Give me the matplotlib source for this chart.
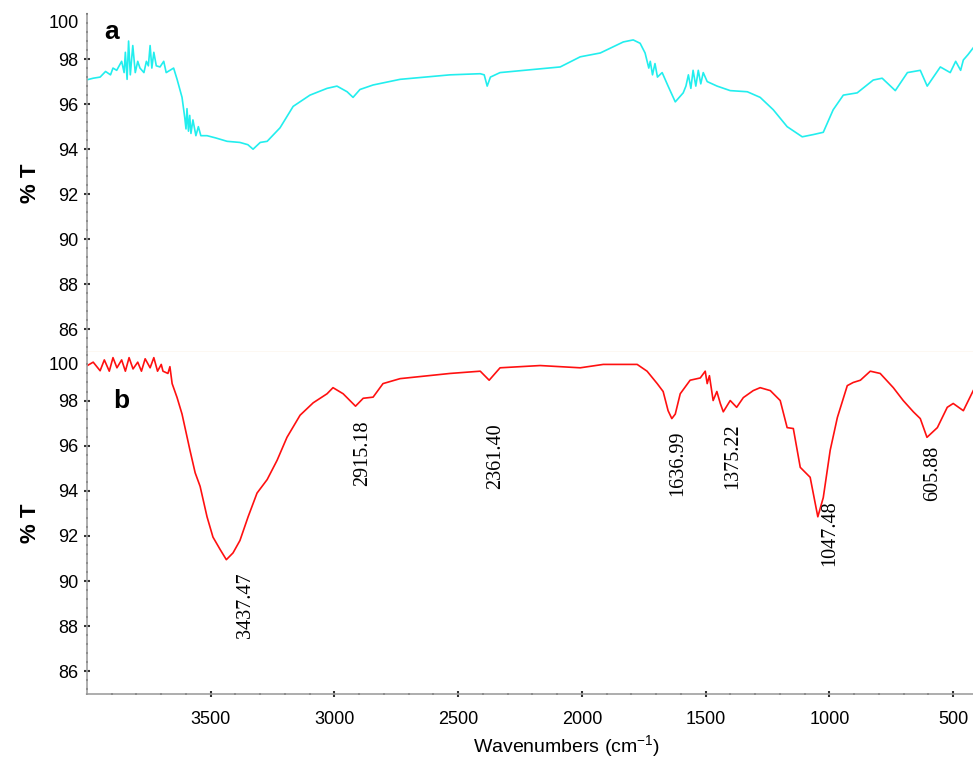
import matplotlib
matplotlib.use("Agg")
import matplotlib.pyplot as plt
from matplotlib.ticker import MultipleLocator, FixedLocator

# ---------------- data ----------------
wn_a = [4000, 3975, 3947, 3925, 3905, 3895, 3880, 3860, 3850, 3845,
        3838, 3832, 3825, 3815, 3805, 3795, 3786, 3770, 3760, 3752,
        3745, 3738, 3730, 3720, 3705, 3690, 3680, 3665, 3650, 3636,
        3616, 3605, 3600, 3596, 3590, 3585, 3580, 3572, 3560, 3550,
        3540, 3515, 3480, 3434, 3382, 3350, 3329, 3300, 3272, 3220,
        3167, 3099, 3030, 2990, 2949, 2925, 2897, 2844, 2735, 2533,
        2411, 2395, 2383, 2370, 2331, 2088, 2007, 1926, 1833, 1793,
        1765, 1745, 1730, 1724, 1715, 1705, 1695, 1676, 1652, 1623,
        1591, 1580, 1570, 1560, 1551, 1540, 1530, 1520, 1510, 1494,
        1454, 1401, 1332, 1280, 1227, 1171, 1110, 1065, 1025, 985,
        944, 888, 823, 787, 734, 685, 633, 605, 552, 512,
        490, 470, 459, 440, 419]
t_a = [97.08, 97.15, 97.2, 97.45, 97.3, 97.6, 97.5, 97.9, 97.4, 98.3,
       97.1, 98.8, 97.3, 98.6, 97.4, 97.9, 97.6, 97.4, 97.9, 97.7,
       98.6, 97.6, 98.3, 97.7, 97.65, 97.9, 97.4, 97.5, 97.6, 97.1,
       96.3, 95.4, 94.9, 95.8, 94.8, 95.5, 94.7, 95.3, 94.6, 95.0,
       94.6, 94.6, 94.5, 94.35, 94.3, 94.2, 94.0, 94.3, 94.35, 94.95,
       95.9, 96.4, 96.7, 96.8, 96.55, 96.3, 96.65, 96.85, 97.1, 97.3,
       97.35, 97.3, 96.8, 97.2, 97.4, 97.65, 98.1, 98.27, 98.76, 98.85,
       98.7, 98.27, 97.6, 97.9, 97.3, 97.8, 97.2, 97.4, 96.8, 96.1,
       96.5, 96.8, 97.3, 96.7, 97.5, 96.8, 97.5, 96.9, 97.4, 97.0,
       96.8, 96.6, 96.55, 96.3, 95.75, 95.0, 94.55, 94.65, 94.75, 95.75,
       96.4, 96.5, 97.07, 97.15, 96.6, 97.4, 97.5, 96.8, 97.65, 97.4,
       97.9, 97.5, 97.96, 98.2, 98.5]

wn_b = [4000, 3975, 3947, 3930, 3910, 3895, 3879, 3860, 3845, 3830,
        3814, 3795, 3780, 3765, 3745, 3730, 3715, 3700, 3693, 3673,
        3665, 3656, 3636, 3616, 3604, 3584, 3563, 3543, 3515, 3491,
        3462, 3437, 3410, 3382, 3349, 3313, 3272, 3232, 3192, 3139,
        3086, 3030, 3006, 2965, 2915, 2884, 2844, 2804, 2735, 2533,
        2411, 2375, 2331, 2169, 2007, 1914, 1777, 1737, 1696, 1672,
        1652, 1637, 1623, 1603, 1563, 1522, 1502, 1494, 1485, 1470,
        1455, 1441, 1429, 1401, 1375, 1348, 1308, 1280, 1239, 1199,
        1171, 1146, 1118, 1078, 1047, 1025, 997, 968, 928, 904,
        875, 835, 795, 742, 702, 661, 633, 606, 564, 524,
        500, 459, 419]
t_b = [99.54, 99.7, 99.32, 99.8, 99.3, 99.9, 99.45, 99.8, 99.3, 99.9,
       99.4, 99.7, 99.3, 99.85, 99.45, 99.9, 99.3, 99.6, 99.3, 99.2,
       99.5, 98.75, 98.13, 97.4, 96.8, 95.8, 94.8, 94.2, 92.85, 91.95,
       91.4, 90.95, 91.25, 91.8, 92.85, 93.9, 94.5, 95.35, 96.37, 97.35,
       97.9, 98.3, 98.57, 98.3, 97.75, 98.1, 98.15, 98.75, 98.97, 99.2,
       99.3, 98.9, 99.45, 99.55, 99.45, 99.6, 99.6, 99.3, 98.75, 98.4,
       97.55, 97.2, 97.4, 98.3, 98.9, 99.0, 99.3, 98.75, 99.1, 98.0,
       98.4, 97.87, 97.5, 98.0, 97.7, 98.13, 98.44, 98.57, 98.44, 98.0,
       96.8, 96.76, 95.04, 94.6, 92.85, 93.7, 95.8, 97.25, 98.66, 98.8,
       98.9, 99.3, 99.2, 98.57, 98.0, 97.5, 97.2, 96.37, 96.8, 97.7,
       97.87, 97.55, 98.44]

peak_labels = ["3437.47", "2915.18", "2361.40", "1636.99", "1375.22", "1047.48", "605.88"]
label_x = [3361, 2888, 2347, 1615, 1389, 997, 584]
label_top = [90.37, 97.1, 96.98, 96.67, 96.98, 93.59, 96.0]

yticks = [86, 88, 90, 92, 94, 96, 98]
xticks = [3500, 3000, 2500, 2000, 1500, 1000, 500]

# ---------------- figure ----------------
plt.rcParams['font.family'] = ['Liberation Sans Narrow', 'Liberation Sans', 'DejaVu Sans']
W, H = 973, 761
fig = plt.figure(figsize=(W / 100, H / 100), dpi=100)
left = 87 / W
ax_a = fig.add_axes([left, 1 - 352 / H, 1 - left, (352 - 14) / H])
ax_b = fig.add_axes([left, 1 - 694 / H, 1 - left, (694 - 352) / H])

spine_col = '#a0a0a0'
tick_col = '#333333'

for ax in (ax_a, ax_b):
    ax.set_xlim(4000, 420)
    for s in ('top', 'right'):
        ax.spines[s].set_visible(False)
    ax.spines['left'].set_color(spine_col)
    ax.spines['left'].set_linewidth(1.2)
    ax.yaxis.set_major_locator(FixedLocator(yticks))
    ax.yaxis.set_minor_locator(MultipleLocator(0.4))
    ax.xaxis.set_major_locator(FixedLocator(xticks))
    ax.xaxis.set_minor_locator(MultipleLocator(100))
    ax.tick_params(axis='both', which='major', direction='inout', length=5,
                   width=1.5, color=tick_col, labelsize=13, pad=4)
    ax.tick_params(axis='x', which='major', pad=10)
    ax.tick_params(axis='both', which='minor', direction='inout', length=2,
                   width=1.5, color=tick_col)
    ax.set_ylabel('% T', fontsize=16, fontweight='bold', family=['Liberation Sans', 'DejaVu Sans'],
                  labelpad=12)
    ax.annotate('100', xy=(0, 100), xycoords=('axes fraction', 'data'),
                xytext=(-6, -7), textcoords='offset points', ha='right', va='center',
                fontsize=13, annotation_clip=False)

# panel a
ax_a.set_ylim(85, 100)
ax_a.spines['bottom'].set_color('#f5dcc0')
ax_a.spines['bottom'].set_linewidth(1.0)
ax_a.tick_params(axis='x', which='both', bottom=False, labelbottom=False)
ax_a.plot(wn_a, t_a, color='#22eeee', lw=1.2)
ax_a.text(3930, 99.2, 'a', fontsize=19, fontweight='bold',
          family=['Liberation Sans', 'DejaVu Sans'], va='center', ha='left')

# panel b
ax_b.set_ylim(85, 100.15)
ax_b.spines['bottom'].set_color(spine_col)
ax_b.spines['bottom'].set_linewidth(1.2)
ax_b.plot(wn_b, t_b, color='#ff1010', lw=1.2)
ax_b.text(3895, 98.0, 'b', fontsize=19, fontweight='bold',
          family=['Liberation Sans', 'DejaVu Sans'], va='center', ha='left')

for lab, x, y in zip(peak_labels, label_x, label_top):
    ax_b.text(x, y, lab, rotation=90, ha='center', va='top', fontsize=14.5,
              family=['Liberation Serif', 'DejaVu Serif'])

ax_b.set_xlabel('Wavenumbers (cm$^{\\mathregular{-1}}$)', fontsize=14)
ax_b.xaxis.set_label_coords((567 - 87) / (W - 87), -0.115)

fig.savefig('out.png', dpi=100)
